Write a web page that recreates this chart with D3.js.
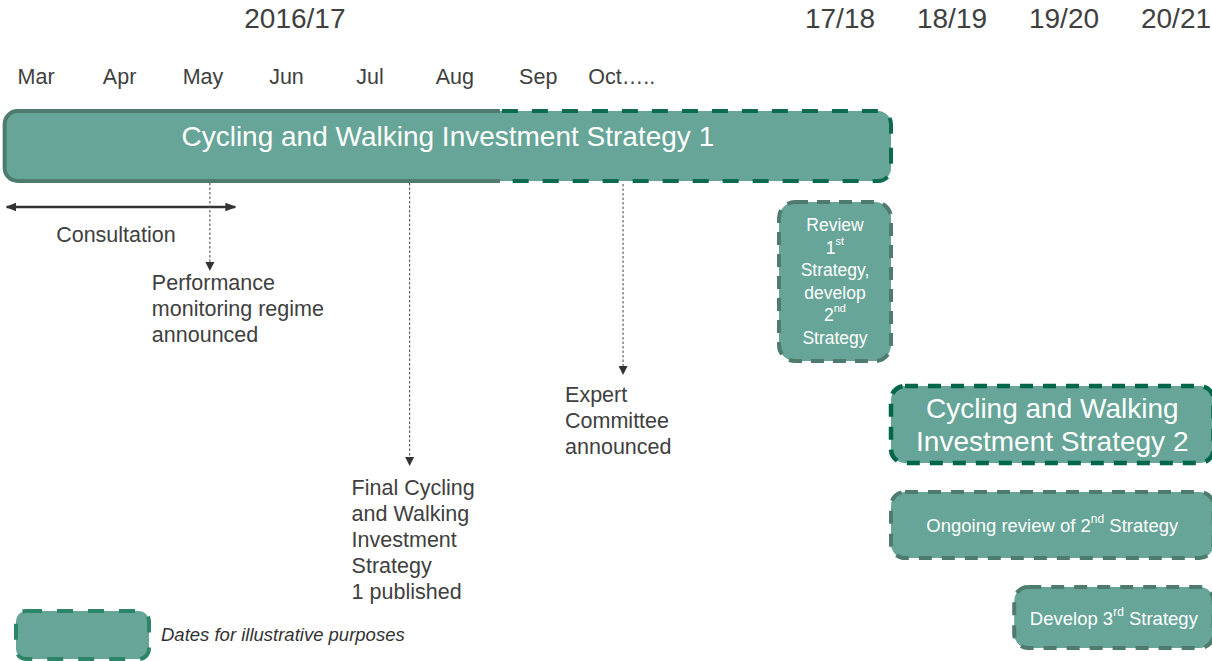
<!DOCTYPE html>
<html>
<head>
<meta charset="utf-8">
<script src="https://cdn.jsdelivr.net/npm/d3@7"></script>
<style>
  html, body { margin: 0; padding: 0; background: #ffffff; }
  svg { display: block; }
  text { font-family: "Liberation Sans", Arial, Helvetica, sans-serif; }
</style>
</head>
<body>
<svg id="chart" width="1212" height="661"></svg>
<script>
// ---------------- DATA ----------------
const fiscalYear = "2016/17";
const months = ["Mar", "Apr", "May", "Jun", "Jul", "Aug", "Sep", "Oct….."];
const monthStartDates = ["2016-03-01","2016-04-01","2016-05-01","2016-06-01","2016-07-01","2016-08-01","2016-09-01","2016-10-01"];
const futureYears = ["17/18", "18/19", "19/20", "20/21"];

// Strategy 1 bar: firm dates until firmUntil, illustrative afterwards (ends at end of 17/18, year index 1)
const strategy1Label = "Cycling and Walking Investment Strategy 1";
const strategy1Start = "2016-03-05";
const strategy1FirmUntil = "2016-09-02";
const strategy1EndYear = 1.0;

const consultationLabel = "Consultation";
const consultationStart = "2016-03-05";
const consultationEnd = "2016-05-29";

const milestoneLabels = [
  ["Performance", "monitoring regime", "announced"],
  ["Final Cycling", "and Walking", "Investment", "Strategy", "1 published"],
  ["Expert", "Committee", "announced"]
];
const milestoneDates = ["2016-05-19", "2016-07-31", "2016-10-17"];

// Later blocks, positioned in years after 2016/17 (0 = start of 17/18)
const blockLabels = [
  ["Review", "1^st", "Strategy,", "develop", "2^nd", "Strategy"],
  ["Cycling and Walking", "Investment Strategy 2"],
  ["Ongoing review of 2^nd Strategy"],
  ["Develop 3^rd Strategy"]
];
const blockStarts = [0, 1.0, 1.0, 2.1];
const blockEnds = [1.0, 3.88, 3.88, 3.88];

const legendLabel = "Dates for illustrative purposes";

// ---------------- LAYOUT / STYLE ----------------
const FILL = "#66a597";
const SOLID_STROKE = "#4e7b6d";
const TEXT = "#404040";

const blockStyle = [
  { y: 202, h: 159, r: 16, stroke: "#4e7b6d", dash: "13,9", sw: 4, fs: 17.5, lh: 22.6, sup: 11, shift: 7 },
  { y: 386, h: 77, r: 14, stroke: "#02664a", dash: "13,10", sw: 4.5, fs: 28, lh: 33, sup: 17, shift: 10 },
  { y: 492, h: 66, r: 14, stroke: "#4e7b6d", dash: "13,10", sw: 4, fs: 18.5, lh: 22, sup: 12, shift: 6 },
  { y: 587, h: 61, r: 14, stroke: "#4e7b6d", dash: "13,10", sw: 4, fs: 18.5, lh: 22, sup: 12, shift: 6 }
];
const milestoneLayout = [
  { tipY: 271, textY: 283 },
  { tipY: 466, textY: 488 },
  { tipY: 375, textY: 395 }
];

const parse = d3.timeParse("%Y-%m-%d");
const svg = d3.select("#chart");

// Scales
const monthX = d3.scaleTime()
  .domain([parse("2016-03-01"), parse("2016-11-01")])
  .range([-6.3, 664.1]);
const yearX = d3.scaleLinear().domain([0, 1]).range([779, 891]);

// ---------------- HEADERS ----------------
svg.append("text")
  .attr("x", (monthX(parse("2016-03-01")) + monthX(parse("2016-11-01"))) / 2 - 34)
  .attr("y", 18)
  .attr("dominant-baseline", "central")
  .attr("text-anchor", "middle")
  .attr("font-size", 28)
  .attr("fill", TEXT)
  .text(fiscalYear);

svg.selectAll("text.year").data(futureYears).enter().append("text")
  .attr("class", "year")
  .attr("x", (d, i) => yearX(i + 0.5) + 5)
  .attr("y", 18)
  .attr("dominant-baseline", "central")
  .attr("text-anchor", "middle")
  .attr("font-size", 28)
  .attr("fill", TEXT)
  .text(d => d);

svg.selectAll("text.month").data(months).enter().append("text")
  .attr("class", "month")
  .attr("x", (d, i) => {
    const s = parse(monthStartDates[i]);
    const e = d3.timeMonth.offset(s, 1);
    return (monthX(s) + monthX(e)) / 2;
  })
  .attr("y", 77)
  .attr("dominant-baseline", "central")
  .attr("text-anchor", "middle")
  .attr("font-size", 21.5)
  .attr("fill", TEXT)
  .text(d => d);

// ---------------- STRATEGY 1 BAR ----------------
const b0 = monthX(parse(strategy1Start));
const bs = monthX(parse(strategy1FirmUntil));
const b1 = yearX(strategy1EndYear);
const by0 = 111, by1 = 181, br = 13;

svg.append("rect")
  .attr("x", b0).attr("y", by0)
  .attr("width", b1 - b0).attr("height", by1 - by0)
  .attr("rx", br).attr("ry", br)
  .attr("fill", FILL);

const solidPath = d3.path();
solidPath.moveTo(bs, by0);
solidPath.lineTo(b0 + br, by0);
solidPath.arcTo(b0, by0, b0, by0 + br, br);
solidPath.lineTo(b0, by1 - br);
solidPath.arcTo(b0, by1, b0 + br, by1, br);
solidPath.lineTo(bs, by1);
svg.append("path").attr("d", solidPath.toString())
  .attr("fill", "none").attr("stroke", SOLID_STROKE).attr("stroke-width", 4);

const dashPath = d3.path();
dashPath.moveTo(bs + 2, by0);
dashPath.lineTo(b1 - br, by0);
dashPath.arcTo(b1, by0, b1, by0 + br, br);
dashPath.lineTo(b1, by1 - br);
dashPath.arcTo(b1, by1, b1 - br, by1, br);
dashPath.lineTo(bs + 2, by1);
svg.append("path").attr("d", dashPath.toString())
  .attr("fill", "none").attr("stroke", "#0c6b4f").attr("stroke-width", 4)
  .attr("stroke-dasharray", "16,14");

svg.append("text")
  .attr("x", (b0 + b1) / 2)
  .attr("y", (by0 + by1) / 2 - 10)
  .attr("dominant-baseline", "central")
  .attr("text-anchor", "middle")
  .attr("font-size", 28)
  .attr("fill", "#ffffff")
  .text(strategy1Label);

// ---------------- CONSULTATION ARROW ----------------
const cx0 = monthX(parse(consultationStart));
const cx1 = monthX(parse(consultationEnd));
const cy = 207;
const defs = svg.append("defs");
defs.append("marker")
  .attr("id", "headEnd").attr("viewBox", "0 0 10 10")
  .attr("refX", 9).attr("refY", 5)
  .attr("markerWidth", 4.2).attr("markerHeight", 4.2)
  .attr("markerUnits", "strokeWidth")
  .attr("orient", "auto-start-reverse")
  .append("path").attr("d", "M0,1 L10,5 L0,9 Z").attr("fill", "#333333");

svg.append("line")
  .attr("x1", cx0 + 2).attr("x2", cx1 - 2)
  .attr("y1", cy).attr("y2", cy)
  .attr("stroke", "#333333").attr("stroke-width", 2.6)
  .attr("marker-start", "url(#headEnd)")
  .attr("marker-end", "url(#headEnd)");

svg.append("text")
  .attr("x", (cx0 + cx1) / 2 - 5)
  .attr("y", 235)
  .attr("dominant-baseline", "central")
  .attr("text-anchor", "middle")
  .attr("font-size", 21.5)
  .attr("fill", TEXT)
  .text(consultationLabel);

// ---------------- MILESTONES ----------------
milestoneDates.forEach((dStr, i) => {
  const x = monthX(parse(dStr));
  const lay = milestoneLayout[i];
  const top = i === 2 ? by1 + 3 : by1 + 2;
  svg.append("line")
    .attr("x1", x).attr("x2", x)
    .attr("y1", top).attr("y2", lay.tipY - 8)
    .attr("stroke", "#555555").attr("stroke-width", 1.1)
    .attr("stroke-dasharray", "2.5,2");
  svg.append("path")
    .attr("d", `M${x - 4.5},${lay.tipY - 9} L${x + 4.5},${lay.tipY - 9} L${x},${lay.tipY} Z`)
    .attr("fill", "#333333");
  const t = svg.append("text")
    .attr("x", x - 58)
    .attr("y", lay.textY)
    .attr("dominant-baseline", "central")
    .attr("font-size", 21.5)
    .attr("fill", TEXT);
  milestoneLabels[i].forEach((line, j) => {
    t.append("tspan").attr("x", x - 58).attr("y", lay.textY + j * 26).text(line);
  });
});

// ---------------- HELPER: text with superscripts ----------------
function addRichLine(textSel, line, x, y, sup, shift) {
  const parts = line.split(/\^([a-z]+)/);
  let first = true;
  let pendingDown = 0;
  for (let k = 0; k < parts.length; k++) {
    if (parts[k] === "") continue;
    const ts = textSel.append("tspan");
    if (first) { ts.attr("x", x).attr("y", y); first = false; }
    if (k % 2 === 1) {
      ts.attr("font-size", sup).attr("dy", -shift).text(parts[k]);
      pendingDown = shift;
    } else {
      if (pendingDown) { ts.attr("dy", pendingDown); pendingDown = 0; }
      ts.text(parts[k]);
    }
  }
}

// ---------------- LATER BLOCKS ----------------
blockLabels.forEach((lines, i) => {
  const st = blockStyle[i];
  const x0 = yearX(blockStarts[i]);
  const x1 = yearX(blockEnds[i]);
  svg.append("rect")
    .attr("x", x0).attr("y", st.y)
    .attr("width", x1 - x0).attr("height", st.h)
    .attr("rx", st.r).attr("ry", st.r)
    .attr("fill", FILL)
    .attr("stroke", st.stroke)
    .attr("stroke-width", st.sw)
    .attr("stroke-dasharray", st.dash);
  const cx = (x0 + x1) / 2;
  const cyc = st.y + st.h / 2;
  const firstY = cyc - (lines.length - 1) * st.lh / 2;
  lines.forEach((line, j) => {
    const t = svg.append("text")
      .attr("text-anchor", "middle")
      .attr("dominant-baseline", "central")
      .attr("font-size", st.fs)
      .attr("fill", "#ffffff");
    addRichLine(t, line, cx, firstY + j * st.lh, st.sup, st.shift);
  });
});

// ---------------- LEGEND ----------------
svg.append("rect")
  .attr("x", 16).attr("y", 611)
  .attr("width", 133).attr("height", 48)
  .attr("rx", 10).attr("ry", 10)
  .attr("fill", FILL)
  .attr("stroke", "#2b8566")
  .attr("stroke-width", 4)
  .attr("stroke-dasharray", "16,15");

svg.append("text")
  .attr("x", 161).attr("y", 634)
  .attr("dominant-baseline", "central")
  .attr("font-size", 18.5)
  .attr("font-style", "italic")
  .attr("fill", "#333333")
  .text(legendLabel);
</script>
</body>
</html>
